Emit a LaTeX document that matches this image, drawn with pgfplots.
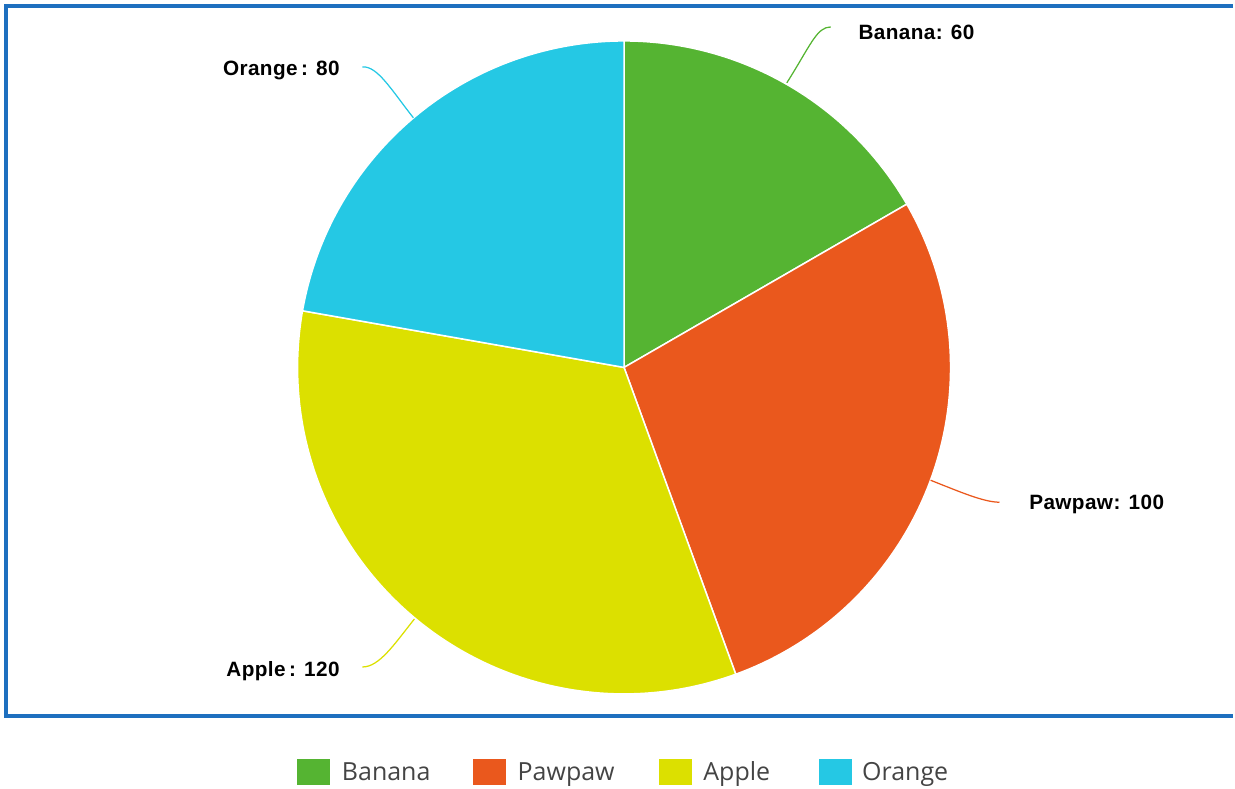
\documentclass[border=0pt]{standalone}
\usepackage{pgfplots}
\usepackage{pgfplotstable}
\pgfplotsset{compat=1.18}
\usepackage{fontspec}
\setmainfont{Liberation Sans}
\newfontfamily\labfont[LetterSpace=2]{Liberation Sans}
\newfontfamily\legfont{Open Sans}
\definecolor{cBanana}{HTML}{55B432}
\definecolor{cPawpaw}{HTML}{EA581D}
\definecolor{cApple}{HTML}{DCE000}
\definecolor{cOrange}{HTML}{25C8E4}
\definecolor{frame}{HTML}{1E6FBF}
\definecolor{legtext}{HTML}{444444}

\pgfplotstableread{
name value
Banana 60
Pawpaw 100
Apple 120
Orange 80
}\fruits

\pgfplotstablegetelem{0}{value}\of\fruits \let\vA=\pgfplotsretval
\pgfplotstablegetelem{1}{value}\of\fruits \let\vB=\pgfplotsretval
\pgfplotstablegetelem{2}{value}\of\fruits \let\vC=\pgfplotsretval
\pgfplotstablegetelem{3}{value}\of\fruits \let\vD=\pgfplotsretval
\pgfmathsetmacro\tot{\vA+\vB+\vC+\vD}
\pgfmathsetmacro\angA{90}
\pgfmathsetmacro\angB{\angA-\vA/\tot*360}
\pgfmathsetmacro\angC{\angB-\vB/\tot*360}
\pgfmathsetmacro\angD{\angC-\vC/\tot*360}
\pgfmathsetmacro\angE{\angD-\vD/\tot*360}

\begin{document}
\begin{tikzpicture}
\begin{axis}[scale only axis, width=494pt, height=316pt,
  xmin=0, xmax=1235, ymin=0, ymax=790, y dir=reverse,
  hide axis, clip=false]
\path (axis cs:0,0) (axis cs:1235,790);
% frame
\draw[frame, line width=1.5pt] (axis cs:1235,6) -- (axis cs:6,6) -- (axis cs:6,717) -- (axis cs:1235,717);
% slices
\addplot[fill=cBanana, draw=white, line width=0.6pt, domain=\angB:\angA, samples=80, variable=\t]
  ({625+327*cos(\t)},{368-327*sin(\t)}) -- (axis cs:625,368) -- cycle;
\addplot[fill=cPawpaw, draw=white, line width=0.6pt, domain=\angC:\angB, samples=100, variable=\t]
  ({625+327*cos(\t)},{368-327*sin(\t)}) -- (axis cs:625,368) -- cycle;
\addplot[fill=cApple, draw=white, line width=0.6pt, domain=\angD:\angC, samples=110, variable=\t]
  ({625+327*cos(\t)},{368-327*sin(\t)}) -- (axis cs:625,368) -- cycle;
\addplot[fill=cOrange, draw=white, line width=0.6pt, domain=\angE:\angD, samples=90, variable=\t]
  ({625+327*cos(\t)},{368-327*sin(\t)}) -- (axis cs:625,368) -- cycle;
% leaders
\draw[cBanana, line width=0.5pt] (axis cs:788,83) .. controls (axis cs:812,45) and (axis cs:818,27) .. (axis cs:832,27);
\draw[cOrange, line width=0.5pt] (axis cs:414,118) .. controls (axis cs:392,90) and (axis cs:378,66) .. (axis cs:363,67);
\draw[cPawpaw, line width=0.5pt] (axis cs:932,481) .. controls (axis cs:960,492) and (axis cs:985,503) .. (axis cs:1001,503);
\draw[cApple, line width=0.5pt] (axis cs:415,620) .. controls (axis cs:395,645) and (axis cs:380,668) .. (axis cs:363,668);
% labels
\tikzset{lab/.style={font=\labfont\bfseries\fontsize{8.3}{10}\selectfont, text=black}}
\node[anchor=west, lab] at (axis cs:851,32) {Banana: 60};
\node[anchor=east, lab] at (axis cs:349,71) {Orange\,: 80};
\node[anchor=west, lab] at (axis cs:1022,505) {Pawpaw: 100};
\node[anchor=east, lab] at (axis cs:349,672) {Apple\,: 120};
% legend
\fill[cBanana] (axis cs:297,760) rectangle (axis cs:330,786);
\fill[cPawpaw] (axis cs:474,760) rectangle (axis cs:507,786);
\fill[cApple] (axis cs:660,760) rectangle (axis cs:693,786);
\fill[cOrange] (axis cs:820,760) rectangle (axis cs:853,786);
\tikzset{leg/.style={anchor=base west, inner sep=0pt, font=\legfont\fontsize{10}{12}\selectfont, text=legtext}}
\node[leg] at (axis cs:342,782) {Banana};
\node[leg] at (axis cs:518,782) {Pawpaw};
\node[leg] at (axis cs:704,782) {Apple};
\node[leg] at (axis cs:863,782) {Orange};
\end{axis}
\end{tikzpicture}
\end{document}
